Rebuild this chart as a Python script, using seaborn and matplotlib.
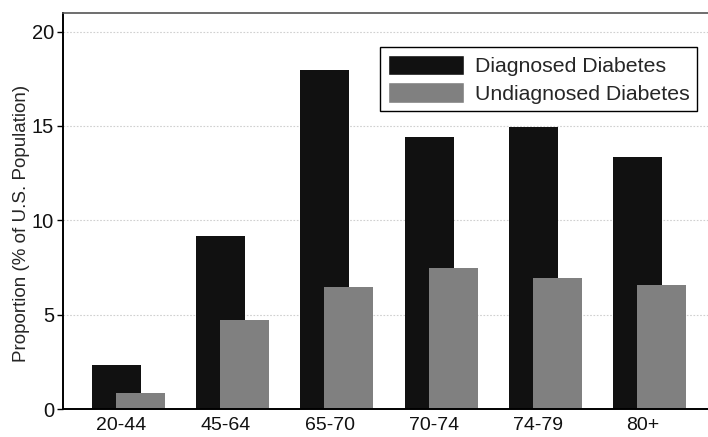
import matplotlib
matplotlib.use("Agg")
import matplotlib.pyplot as plt
import seaborn as sns
import pandas as pd

categories = ["20-44", "45-64", "65-70", "70-74", "74-79", "80+"]
diagnosed = [2.33, 9.17, 17.97, 14.43, 14.93, 13.37]
undiagnosed = [0.86, 4.72, 6.45, 7.46, 6.96, 6.55]
series_names = ["Diagnosed Diabetes", "Undiagnosed Diabetes"]
yticks = [0, 5, 10, 15, 20]

df = pd.DataFrame({
    "age": categories * 2,
    "value": diagnosed + undiagnosed,
    "type": [series_names[0]] * len(categories) + [series_names[1]] * len(categories),
})

sns.set_theme(style="white")
plt.rcParams["font.family"] = ["Liberation Sans", "DejaVu Sans"]

fig = plt.figure(figsize=(7.08, 4.37), dpi=100)
ax = fig.add_axes([0.089, 0.064, 0.911, 0.907])

sns.barplot(data=df, x="age", y="value", hue="type", order=categories,
            hue_order=series_names, palette=["#111111", "#808080"],
            dodge=True, width=0.8, ax=ax, saturation=1, legend=True)

# overlap the bars as in the reference
offsets = [-0.045, 0.185]
bw = 0.47
for cont, off in zip(ax.containers, offsets):
    for p in cont:
        c = p.get_x() + p.get_width() / 2
        cat = round(c)
        p.set_x(cat + off - bw / 2)
        p.set_width(bw)
        p.set_linewidth(0)

ax.set_xlim(-0.556, 5.63)
ax.set_ylim(0, 21)
ax.set_yticks(yticks)
ax.set_xlabel("")
ax.set_ylabel("Proportion (% of U.S. Population)", fontsize=13.5)
ax.yaxis.set_label_coords(-0.051, 0.467)
ax.tick_params(axis="y", which="both", left=True, length=4.5, width=1, color="black",
               labelsize=14.5, pad=2, direction="out")
ax.tick_params(axis="x", length=0, labelsize=14, pad=6)
for t in ax.get_xticklabels() + ax.get_yticklabels():
    t.set_color("#111111")

ax.set_axisbelow(True)
ax.yaxis.grid(True, color="#d0d0d0", linestyle=(0, (1.5, 1.5)), linewidth=0.8)
ax.xaxis.grid(False)

for s in ["left", "bottom"]:
    ax.spines[s].set_color("black")
    ax.spines[s].set_linewidth(1.4)
ax.spines["top"].set_color("#555555")
ax.spines["top"].set_linewidth(1.2)
ax.spines["right"].set_visible(False)

handles, labels = ax.get_legend_handles_labels()
leg = ax.legend(handles, labels, loc="upper right", bbox_to_anchor=(0.983, 0.913),
                borderaxespad=0, fontsize=15.3, frameon=True, fancybox=False,
                edgecolor="black", framealpha=1, handlelength=3.6, handleheight=1.1,
                labelspacing=0.3, borderpad=0.35, handletextpad=0.5)
leg.get_frame().set_linewidth(1.0)

fig.savefig("out.png", dpi=100)
